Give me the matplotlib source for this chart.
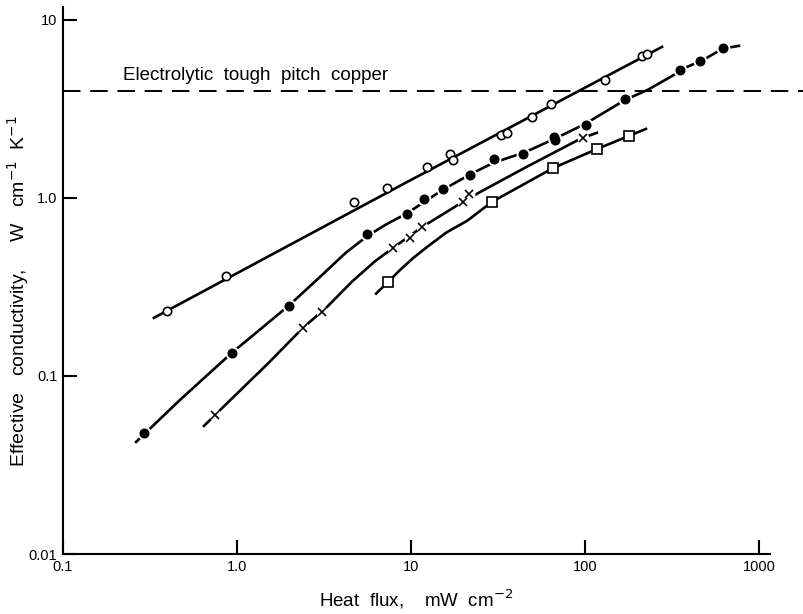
import matplotlib
matplotlib.use("Agg")
import matplotlib.pyplot as plt
from matplotlib.ticker import FixedLocator, FixedFormatter, NullLocator

plt.rcParams['font.family'] = ['Liberation Sans', 'DejaVu Sans']

# copper reference level
copper_k = 4.0

# open circles
open_x = [0.396, 0.865, 4.7, 7.28, 12.4, 16.7, 17.4, 32.9, 35.6, 49.5, 63.9, 130, 213, 227]
open_y = [0.232, 0.365, 0.95, 1.14, 1.49, 1.77, 1.64, 2.26, 2.32, 2.85, 3.37, 4.6, 6.28, 6.44]
open_line_x = [0.333, 8.65, 277]
open_line_y = [0.212, 1.17, 7.05]

# solid circles
solid_x = [0.292, 0.935, 1.99, 5.58, 9.49, 11.9, 15.3, 21.8, 30.0, 44.1, 66.4, 67.3, 101, 170, 352, 458, 621]
solid_y = [0.0479, 0.135, 0.247, 0.628, 0.813, 0.986, 1.12, 1.35, 1.65, 1.77, 2.2, 2.1, 2.57, 3.6, 5.24, 5.89, 6.96]
solid_line_x = [0.263, 0.47, 0.935, 1.4, 2.0, 3.0, 4.2, 5.6, 7.2, 9.5, 15, 22, 30, 45, 67, 100, 170, 230, 330, 352, 470, 621, 767]
solid_line_y = [0.0426, 0.0733, 0.135, 0.187, 0.25, 0.36, 0.49, 0.61, 0.71, 0.82, 1.1, 1.36, 1.58, 1.8, 2.15, 2.6, 3.55, 4.05, 4.95, 5.24, 5.9, 6.9, 7.14]

# crosses
cross_x = [0.748, 2.39, 3.08, 7.89, 9.86, 11.6, 19.9, 21.5, 97.5]
cross_y = [0.0604, 0.186, 0.229, 0.524, 0.596, 0.687, 0.95, 1.05, 2.17]
cross_line_x = [0.646, 0.748, 1.5, 2.39, 3.29, 4.6, 6.2, 7.89, 11.6, 19.9, 25, 46, 93.5, 117]
cross_line_y = [0.0524, 0.0604, 0.117, 0.186, 0.244, 0.34, 0.44, 0.524, 0.687, 0.95, 1.08, 1.49, 2.14, 2.32]

# open squares
square_x = [7.38, 29.2, 65.5, 117, 179]
square_y = [0.337, 0.95, 1.47, 1.88, 2.23]
square_line_x = [6.3, 7.38, 8.66, 10.3, 12.4, 16, 21, 29.2, 45, 65.5, 117, 179, 224]
square_line_y = [0.29, 0.337, 0.394, 0.46, 0.531, 0.64, 0.743, 0.95, 1.2, 1.47, 1.88, 2.23, 2.44]

x_ticks = [0.1, 1.0, 10, 100, 1000]
x_tick_labels = ['0.1', '1.0', '10', '100', '1000']
y_ticks = [0.01, 0.1, 1.0, 10]
y_tick_labels = ['0.01', '0.1', '1.0', '10']

fig = plt.figure(figsize=(8.04, 6.14), dpi=100)
ax = fig.add_axes([63 / 804, 1 - 554 / 614, 707 / 804, 547 / 614])
ax.set_xscale('log')
ax.set_yscale('log')
ax.set_xlim(0.1, 1156)
ax.set_ylim(0.01, 11.8)

lw = 1.9
ax.plot(open_line_x, open_line_y, color='black', lw=lw)
ax.plot(solid_line_x, solid_line_y, color='black', lw=lw)
ax.plot(cross_line_x, cross_line_y, color='black', lw=lw)
ax.plot(square_line_x, square_line_y, color='black', lw=lw)

# white halos give the small breaks in the line at each point
ax.plot(solid_x, solid_y, 'o', ms=9, color='white', zorder=3)
ax.plot(cross_x, cross_y, 'o', ms=7.5, color='white', zorder=3)

ax.plot(open_x, open_y, 'o', ms=6, mfc='white', mec='black', mew=1.2, zorder=4)
ax.plot(solid_x, solid_y, 'o', ms=6.2, color='black', zorder=4)
ax.plot(cross_x, cross_y, 'x', ms=5.5, color='black', mew=1.2, zorder=4)
ax.plot(square_x, square_y, 's', ms=6.8, mfc='white', mec='black', mew=1.2, zorder=4)

ax.axhline(copper_k, xmin=0, xmax=1.05, color='black', lw=1.4, dashes=(9, 5), clip_on=False)
ax.text(0.22, 4.6, 'Electrolytic  tough  pitch  copper', fontsize=13.5)

for side in ['top', 'right']:
    ax.spines[side].set_visible(False)
ax.spines['left'].set_linewidth(1.5)
ax.spines['bottom'].set_linewidth(1.5)

ax.xaxis.set_major_locator(FixedLocator(x_ticks))
ax.xaxis.set_major_formatter(FixedFormatter(x_tick_labels))
ax.xaxis.set_minor_locator(NullLocator())
ax.yaxis.set_major_locator(FixedLocator(y_ticks))
ax.yaxis.set_major_formatter(FixedFormatter(y_tick_labels))
ax.yaxis.set_minor_locator(NullLocator())
ax.tick_params(direction='in', length=10, width=1.5, labelsize=10.5, pad=4)

ax.set_xlabel('Heat  flux,    mW  cm$^{-2}$', fontsize=13.5)
ax.xaxis.set_label_coords(0.5, -0.062)
ax.set_ylabel('Effective   conductivity,     W   cm$^{-1}$  K$^{-1}$', fontsize=14)
ax.yaxis.set_label_coords(-0.045, 0.48)

fig.savefig('out.png', dpi=100)
